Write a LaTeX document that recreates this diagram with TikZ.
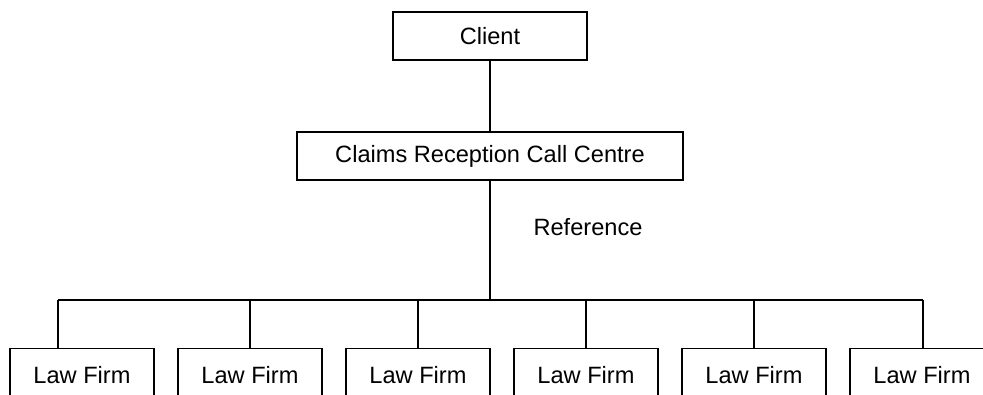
\documentclass[tikz,border=0pt]{standalone}
\usepackage{fontspec}
\setmainfont{Liberation Sans}
\usepackage{tikz}
\usetikzlibrary{positioning, calc}

\begin{document}
\begin{tikzpicture}[x=1pt, y=-1pt, line width=1.3pt,
		box/.style={draw, rectangle, inner sep=0pt, minimum height=48pt, font=\fontsize{23.6}{28}\selectfont},
		firmbox/.style={box, minimum width=144pt, minimum height=52pt, anchor=north}]
				\clip (0,0) rectangle (983,394);
				\useasboundingbox (0,0) rectangle (983,394);
				% top of the chart
				\node[box, minimum width=194pt] (client) at (490,36) {Client};
				\node[box, minimum width=386pt] (claims) at (490,156) {Claims Reception Call Centre};
				\node[font=\fontsize{23.6}{28}\selectfont] (ref) at (588,227) {Reference};
				\draw (client.south) -- (claims.north);
				% law firms
				\foreach \i/\x in {1/82, 2/250, 3/418, 4/586, 5/754, 6/922}
					\node[firmbox] (firm\i) at (\x,348) {Law Firm};
				\coordinate (busL) at (58,300);
				\coordinate (busR) at (923,300);
				\draw (claims.south) -- (claims.south |- busL);
				\draw (busL) -- (busR);
				\draw (busL) -- (busL |- firm1.north);
				\draw (busR) -- (busR |- firm6.north);
				\foreach \i in {2,...,5}
					\draw (firm\i.north) -- (firm\i.north |- busL);
			\end{tikzpicture}
\end{document}
